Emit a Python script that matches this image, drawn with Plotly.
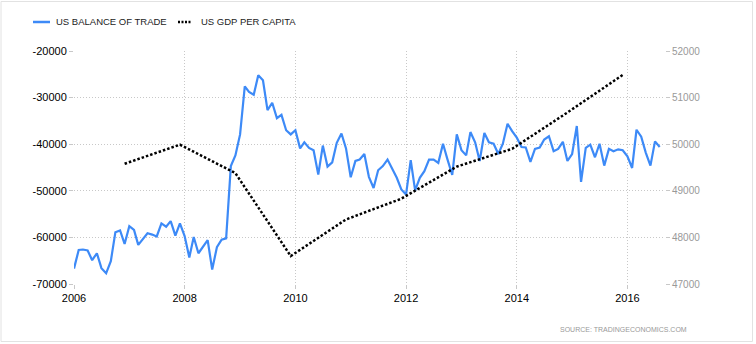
import plotly.graph_objects as go
import pandas as pd

# ---- data ----
trade_months = pd.date_range("2006-01-01", periods=128, freq="MS")
trade_balance = [
    -66700, -62700, -62600, -62800, -64900, -63400, -66600, -67700, -65100, -58900, -58500, -61400,
    -57600, -58400, -61600, -60400, -59100, -59400, -59800, -57000, -57700, -56500, -59600, -57000,
    -59700, -64300, -59900, -63400, -62000, -60600, -66900, -62100, -60500, -60200, -44700, -42400,
    -37900, -27600, -28800, -29400, -25200, -26300, -32700, -31100, -34400, -33700, -37000, -37900,
    -37000, -40900, -39600, -40800, -41300, -46500, -40300, -44800, -43900, -39700, -37700, -40900,
    -47100, -43600, -43300, -42100, -47000, -49400, -45600, -44700, -43300, -45100, -47200, -49700,
    -50800, -43400, -49900, -47200, -45800, -43300, -43300, -44000, -39900, -43300, -46600, -37900,
    -41300, -42400, -37400, -39600, -43600, -37600, -39600, -39900, -42100, -39900, -35600, -37200,
    -38600, -40600, -40700, -43800, -41000, -40700, -39000, -38300, -41500, -41000, -39500, -43600,
    -42100, -36100, -48100, -40800, -40100, -42800, -39900, -44600, -41000, -41500, -41100, -41300,
    -42600, -45100, -36900, -38400, -41800, -44600, -39400, -40600,
]
gdp_dates = ["2006-12-01", "2007-12-01", "2008-12-01", "2009-12-01", "2010-12-01",
             "2011-12-01", "2012-12-01", "2013-12-01", "2014-12-01", "2015-12-01"]
gdp_per_capita = [49580, 49990, 49380, 47600, 48385, 48830, 49520, 49900, 50680, 51487]

left_ticks = [-70000, -60000, -50000, -40000, -30000, -20000]
right_ticks = [47000, 48000, 49000, 50000, 51000, 52000]

series_names = ["US BALANCE OF TRADE", "US GDP PER CAPITA"]
series_colors = ["#3d8af7", "#000000"]
source_text = "SOURCE: TRADINGECONOMICS.COM"

# ---- figure ----
fig = go.Figure()
fig.add_trace(go.Scatter(
    x=trade_months, y=trade_balance, name=series_names[0], mode="lines",
    line=dict(color=series_colors[0], width=2.2), yaxis="y",
))
fig.add_trace(go.Scatter(
    x=pd.to_datetime(gdp_dates), y=gdp_per_capita, name=series_names[1], mode="lines",
    line=dict(color=series_colors[1], width=2.5, dash="2.5px,2px"), yaxis="y2",
))

W, H = 756, 344
ml, mr, mt, mb = 74, 91, 51, 60
pw, ph = W - ml - mr, H - mt - mb


def px_x(x):
    return (x - ml) / pw


def px_y(y):
    return (mt + ph - y) / ph


grid = "#c8c8c8"
gdash = "1px,2px"

# manual legend (keeps exact placement)
leg_y = px_y(22)
shapes = [
    dict(type="line", xref="paper", yref="paper", x0=px_x(33), x1=px_x(50), y0=leg_y, y1=leg_y,
         line=dict(color=series_colors[0], width=2.5)),
    dict(type="line", xref="paper", yref="paper", x0=px_x(178), x1=px_x(191), y0=leg_y, y1=leg_y,
         line=dict(color=series_colors[1], width=2.5, dash="2px,1.5px")),
    dict(type="rect", xref="paper", yref="paper",
         x0=px_x(1), x1=px_x(752.5), y0=px_y(341.5), y1=px_y(1.5),
         line=dict(color="#e2e2e2", width=1), layer="below"),
]
annotations = [
    dict(text=series_names[0], xref="paper", yref="paper", x=px_x(54), y=leg_y,
         xanchor="left", yanchor="middle", showarrow=False, font=dict(size=9.5, color="#222")),
    dict(text=series_names[1], xref="paper", yref="paper", x=px_x(199), y=leg_y,
         xanchor="left", yanchor="middle", showarrow=False, font=dict(size=9.5, color="#222")),
    dict(text=source_text, xref="paper", yref="paper", x=px_x(689), y=px_y(329),
         xanchor="right", yanchor="middle", showarrow=False, font=dict(size=7, color="#999")),
]

fig.update_layout(
    width=W, height=H,
    margin=dict(l=ml, r=mr, t=mt, b=mb, pad=0),
    paper_bgcolor="white", plot_bgcolor="white",
    font=dict(family="Arial, Liberation Sans, sans-serif", color="#000"),
    showlegend=False,
    xaxis=dict(
        type="date", range=["2006-01-01", "2016-09-05"],
        tick0="2006-01-01", dtick="M24", tickformat="%Y",
        showgrid=True, gridcolor=grid, griddash=gdash, gridwidth=1,
        showline=False, zeroline=False,
        ticks="outside", ticklen=4, tickcolor=grid,
        tickfont=dict(size=11, color="#000"),
    ),
    yaxis=dict(
        range=[-70000, -20000], tickvals=left_ticks, ticktext=[str(v) for v in left_ticks],
        showgrid=True, gridcolor=grid, griddash=gdash, gridwidth=1,
        showline=False, zeroline=False,
        ticks="outside", ticklen=4, tickcolor=grid,
        tickfont=dict(size=11, color="#000"),
    ),
    yaxis2=dict(
        range=[47000, 52000], tickvals=right_ticks, ticktext=[str(v) for v in right_ticks],
        overlaying="y", side="right", showgrid=False, zeroline=False, showline=False,
        ticks="outside", ticklen=4, tickcolor=grid,
        tickfont=dict(size=10, color="#999"),
    ),
    annotations=annotations,
    shapes=shapes,
)

fig.write_html("out.html")
